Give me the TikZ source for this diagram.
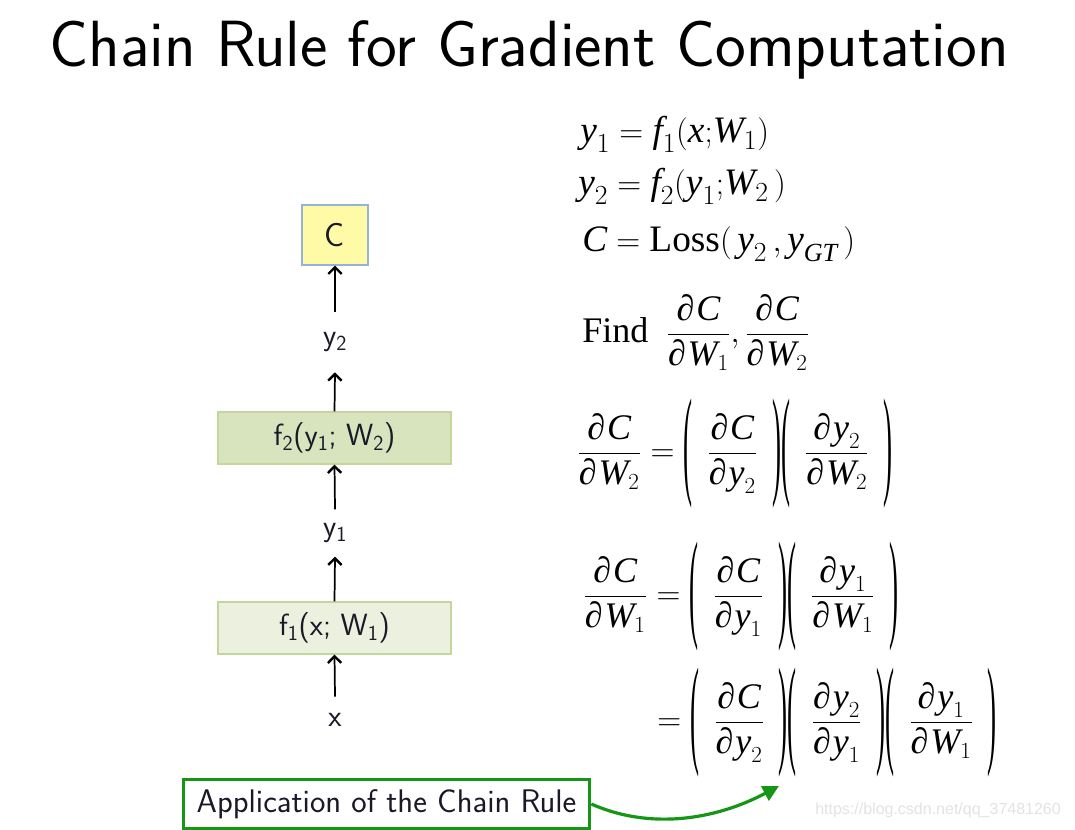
\documentclass[tikz,border=0pt]{standalone}
\usepackage{amsmath}
\usepackage{graphicx}
\usepackage{exscale}
\usepackage{fontspec}
\setmainfont{Liberation Serif}
\newfontfamily\wmfont{Liberation Sans}
\usetikzlibrary{arrows.meta}
\newcommand{\I}[1]{\text{\itshape #1}}
\newcommand{\pd}{\text{∂}\mkern1mu}
\newcommand{\lpar}{\mathopen{\vcenter{\hbox{\scalebox{0.75}[3.35]{(}}}}}
\newcommand{\rpar}{\mathclose{\vcenter{\hbox{\scalebox{0.75}[3.35]{)}}}}}
\newcommand{\PP}[1]{\lpar\mkern8mu#1\mkern8mu\rpar}
\definecolor{cyel}{RGB}{255,250,165}
\definecolor{cyelb}{RGB}{149,179,215}
\definecolor{cftwo}{RGB}{215,228,189}
\definecolor{cfone}{RGB}{235,241,222}
\definecolor{cfb}{RGB}{195,214,155}
\definecolor{cgreen}{RGB}{22,150,22}
\definecolor{ctxt}{RGB}{25,25,40}
\tikzset{
  lbl/.style={font=\sffamily\fontsize{23}{27}\selectfont, text=ctxt, inner sep=0pt},
  fbox/.style={lbl, draw=cfb, line width=0.9pt, minimum width=174.75pt, minimum height=39pt},
  uparr/.style={line width=1.3pt, -{Straight Barb[length=5pt,width=10pt,line width=1.8pt]}},
  eq/.style={font=\fontsize{28}{33}\selectfont, inner sep=0pt, anchor=base west},
  eqc/.style={font=\fontsize{27}{32}\selectfont, inner sep=0pt, anchor=west, text height=40pt, text depth=27pt},
}
\begin{document}
\begin{tikzpicture}[x=0.75pt,y=-0.75pt]
\fill[white] (0,0) rectangle (1075,830);
\useasboundingbox (0,0) rectangle (1075,830);

% title
\node[font=\sffamily\fontsize{49}{58}\selectfont, anchor=base, inner sep=0pt] (title) at (529,67) {Chain Rule for Gradient Computation};

% left graph
\node[lbl, font=\sffamily\fontsize{25}{29}\selectfont, draw=cyelb, fill=cyel, line width=0.9pt, minimum width=49.5pt, minimum height=45pt] (C) at (335,235) {C};
\node[lbl, minimum height=45pt] (y2) at (335,342) {y\textsubscript{2}};
\node[fbox, fill=cftwo] (f2) at (334.5,438) {f\textsubscript{2}(y\textsubscript{1}; W\textsubscript{2})};
\node[lbl, minimum height=35pt] (y1) at (335,533) {y\textsubscript{1}};
\node[fbox, fill=cfone] (f1) at (334.5,628) {f\textsubscript{1}(x; W\textsubscript{1})};
\node[lbl, minimum height=34.5pt] (x) at (335,720) {x};

\draw[uparr] (y2.north) -- (C.south);
\draw[uparr] (f2.north) -- (y2.south);
\draw[uparr] (y1.north) -- (f2.south);
\draw[uparr] (f1.north) -- (y1.south);
\draw[uparr] (x.north) -- (f1.south);

% equations
\node[eq] (e1) at (580,143) {$\I{y}_1 = \I{f}_1(\I{x}{;}\I{W}_1)$};
\node[eq] (e2) at (578,195) {$\I{y}_2 = \I{f}_2(\I{y}_1{;}\I{W}_2\,)$};
\node[eq] (e3) at (582,252) {$\I{C} = \text{Loss}(\,\I{y}_2\,,\I{y}_{\I{GT}}\,)$};
\node[eqc, text height=33pt, text depth=20pt] (e4) at (582,334) {Find $\displaystyle\;\frac{\pd\I{C}}{\pd\I{W}_1},\frac{\pd\I{C}}{\pd\I{W}_2}$};
\node[eqc] (e5) at (577,453) {$\displaystyle \frac{\pd\I{C}}{\pd\I{W}_2} = \PP{\frac{\pd\I{C}}{\pd\I{y}_2}}\PP{\frac{\pd\I{y}_2}{\pd\I{W}_2}}$};
\node[eqc] (e6) at (583,596) {$\displaystyle \frac{\pd\I{C}}{\pd\I{W}_1} = \PP{\frac{\pd\I{C}}{\pd\I{y}_1}}\PP{\frac{\pd\I{y}_1}{\pd\I{W}_1}}$};
\node[eqc] (e7) at (657,722) {$\displaystyle = \PP{\frac{\pd\I{C}}{\pd\I{y}_2}}\PP{\frac{\pd\I{y}_2}{\pd\I{y}_1}}\PP{\frac{\pd\I{y}_1}{\pd\I{W}_1}}$};

% callout
\node[lbl, font=\sffamily\fontsize{24.5}{29}\selectfont, draw=cgreen, line width=2.2pt, minimum width=305pt, minimum height=37pt] (app) at (386.5,804) {Application of the Chain Rule};
\coordinate (tgt) at (779,786);
\draw[cgreen, line width=2.4pt, -{Triangle[length=12pt,width=12pt]}] (app.east) .. controls (650,830) and (715,820) .. (tgt);

% watermark
\node[font=\wmfont\fontsize{12}{14}\selectfont, text=black!11, anchor=west, inner sep=0pt] (wm) at (815,810) {https://blog.csdn.net/qq\_37481260};
\end{tikzpicture}
\end{document}
